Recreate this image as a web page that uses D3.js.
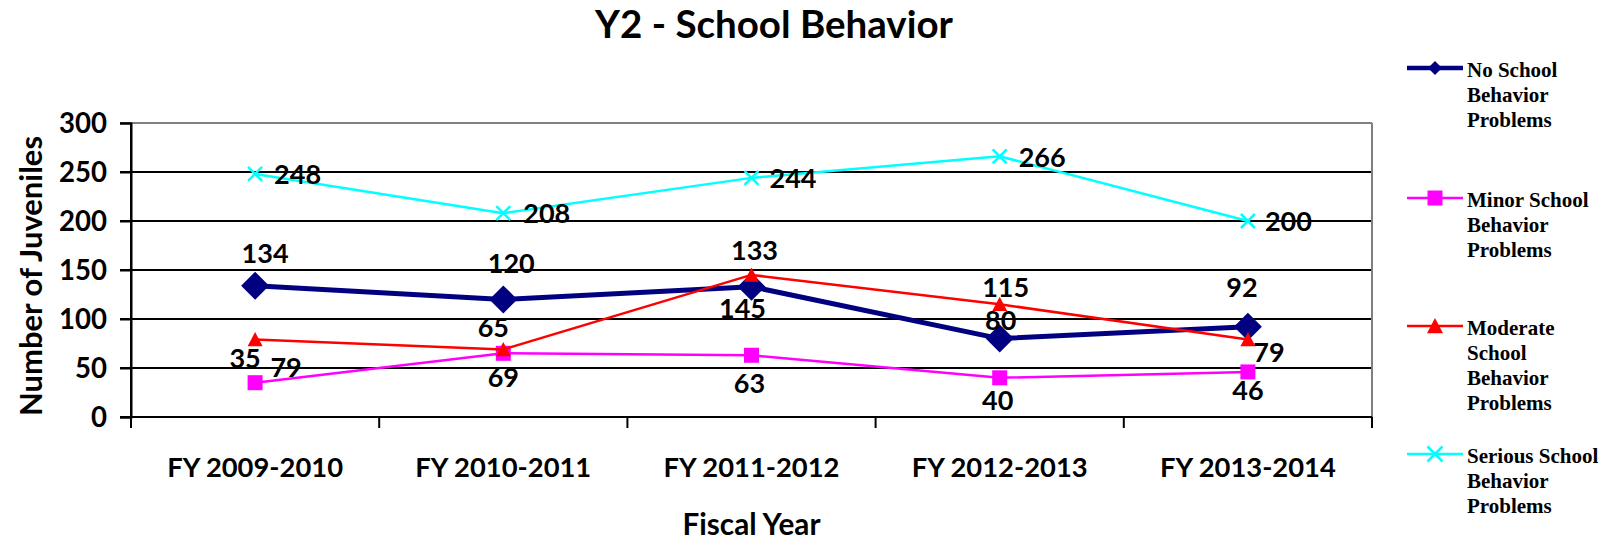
<!DOCTYPE html>
<html><head><meta charset="utf-8">
<script src="https://cdn.jsdelivr.net/npm/d3@7"></script>
<style>body{margin:0;background:#fff} svg{display:block}</style>
</head><body>
<svg id="chart" width="1615" height="543"></svg>
<script>
// ---------- data ----------
const categories = ["FY 2009-2010","FY 2010-2011","FY 2011-2012","FY 2012-2013","FY 2013-2014"];
const noProblems       = [134, 120, 133, 80, 92];
const minorProblems    = [35, 65, 63, 40, 46];
const moderateProblems = [79, 69, 145, 115, 79];
const seriousProblems  = [248, 208, 244, 266, 200];
const seriesNames = ["No School Behavior Problems","Minor School Behavior Problems","Moderate School Behavior Problems","Serious School Behavior Problems"];
const legendLines = [["No School","Behavior","Problems"],["Minor School","Behavior","Problems"],["Moderate","School","Behavior","Problems"],["Serious School","Behavior","Problems"]];
const yTicks = [0, 50, 100, 150, 200, 250, 300];
const titleText = "Y2 - School Behavior";
const xTitle = "Fiscal Year";
const yTitle = "Number of Juveniles";

// ---------- layout / style ----------
const svg = d3.select("#chart");
const L = 131, R = 1372, T = 123, B = 417;
const SANS = "Lato, 'Open Sans', sans-serif";
const SERIF = "'Liberation Serif', 'Times New Roman', serif";

function fitSize(text, family, target) {
  const t = svg.append("text").attr("font-family", family).attr("font-weight", "bold")
    .attr("font-size", 100).text(text);
  const w = t.node().getComputedTextLength();
  t.remove();
  return 100 * target / w;
}
const titleSize = fitSize(titleText, SANS, 358);
const tickSize = fitSize("FY 2009-2010", SANS, 176);
const ySize = fitSize("300", SANS, 48);
const labelSize = fitSize("248", SANS, 47);
const yTitleSize = fitSize(yTitle, SANS, 280);
const xTitleSize = fitSize(xTitle, SANS, 138);

const x = d3.scaleBand().domain(categories).range([L, R]).padding(0);
const y = d3.scaleLinear().domain([0, 300]).range([B, T]);
const cx = c => x(c) + x.bandwidth() / 2;

// gridlines
svg.append("g").selectAll("line").data(yTicks.filter(v => v > 0)).join("line")
  .attr("x1", L - 11).attr("x2", R).attr("y1", d => y(d)).attr("y2", d => y(d))
  .attr("stroke", d => d === 300 ? "#808080" : "#000").attr("stroke-width", 2);
// right border
svg.append("line").attr("x1", R).attr("x2", R).attr("y1", T).attr("y2", B)
  .attr("stroke", "#808080").attr("stroke-width", 2);

// y axis
const yAxis = svg.append("g").attr("transform", `translate(${L},0)`)
  .call(d3.axisLeft(y).tickValues(yTicks).tickSize(11).tickPadding(13));
yAxis.select(".domain").attr("stroke", "#000").attr("stroke-width", 2);
yAxis.selectAll(".tick line").attr("stroke", "#000").attr("stroke-width", 2);
yAxis.selectAll(".tick text").attr("font-family", SANS).attr("font-weight", "bold")
  .attr("font-size", ySize).attr("fill", "#000").attr("dy", "0.34em");

// x axis
const xAxis = svg.append("g").attr("transform", `translate(0,${B})`)
  .call(d3.axisBottom(x).tickSize(0).tickPadding(0));
xAxis.select(".domain").remove();
xAxis.selectAll(".tick text").attr("font-family", SANS).attr("font-weight", "bold")
  .attr("font-size", tickSize).attr("fill", "#000").attr("y", 60).attr("dy", 0);
svg.append("line").attr("x1", L - 11).attr("x2", R).attr("y1", B).attr("y2", B)
  .attr("stroke", "#000").attr("stroke-width", 2);
const bounds = categories.map(c => x(c)).concat([x(categories[categories.length - 1]) + x.bandwidth()]);
svg.append("g").selectAll("line").data(bounds).join("line")
  .attr("x1", d => d).attr("x2", d => d).attr("y1", B).attr("y2", B + 11)
  .attr("stroke", "#000").attr("stroke-width", 2);
svg.append("line").attr("x1", L).attr("x2", L).attr("y1", T).attr("y2", B + 11)
  .attr("stroke", "#000").attr("stroke-width", 2);

// titles
svg.append("text").attr("x", 774).attr("y", 38).attr("text-anchor", "middle")
  .attr("font-family", SANS).attr("font-weight", "bold").attr("font-size", titleSize).text(titleText);
svg.append("text").attr("x", (L + R) / 2).attr("y", 535).attr("text-anchor", "middle")
  .attr("font-family", SANS).attr("font-weight", "bold").attr("font-size", xTitleSize).text(xTitle);
svg.append("text").attr("transform", `translate(42,${(T + B) / 2 + 6}) rotate(-90)`).attr("text-anchor", "middle")
  .attr("font-family", SANS).attr("font-weight", "bold").attr("font-size", yTitleSize).text(yTitle);

// markers
function markerPath(type, s) {
  const h = s / 2;
  if (type === "diamond") return `M0,${-h}L${h},0L0,${h}L${-h},0Z`;
  if (type === "square") return `M${-h},${-h}H${h}V${h}H${-h}Z`;
  if (type === "triangle") return `M0,${-h}L${h},${h * 0.9}L${-h},${h * 0.9}Z`;
  return `M${-h},${-h}L${h},${h}M${h},${-h}L${-h},${h}`;
}

const series = [
  {name: seriesNames[0], values: noProblems, color: "#000080", width: 5, marker: "diamond", size: 28, legSize: 14, legWidth: 4.5,
   anchor: "middle", off: [[10,-23],[8,-26],[3,-27],[1,-9],[-6,-30]]},
  {name: seriesNames[1], values: minorProblems, color: "#FF00FF", width: 2.5, marker: "square", size: 15, legSize: 15, legWidth: 2.5,
   anchor: "middle", off: [[-10,-15],[-10,-16],[-2,38],[-2,32],[0,28]]},
  {name: seriesNames[2], values: moderateProblems, color: "#FF0000", width: 2.5, marker: "triangle", size: 15, legSize: 16, legWidth: 2.5,
   anchor: "middle", off: [[31,37],[0,38],[-9,43],[6,-7],[21,22]]},
  {name: seriesNames[3], values: seriousProblems, color: "#00FFFF", width: 2.5, marker: "x", size: 14, legSize: 15, legWidth: 2.5,
   anchor: "start", off: [[19,10],[20,10],[18,10],[19,11],[17,10]]}
];

const line = d3.line().x(d => cx(d.c)).y(d => y(d.v));
series.forEach(s => {
  const pts = categories.map((c, i) => ({c, v: s.values[i]}));
  const g = svg.append("g");
  g.append("path").datum(pts).attr("d", line).attr("fill", "none")
    .attr("stroke", s.color).attr("stroke-width", s.width).attr("stroke-linejoin", "round");
  g.selectAll("path.m").data(pts).join("path").attr("class", "m")
    .attr("transform", d => `translate(${cx(d.c)},${y(d.v)})`)
    .attr("d", markerPath(s.marker, s.size))
    .attr("fill", s.marker === "x" ? "none" : s.color)
    .attr("stroke", s.color).attr("stroke-width", s.marker === "x" ? 2.5 : 0);
  s.pts = pts;
});
series.forEach(s => {
  svg.append("g").selectAll("text").data(s.pts).join("text")
    .attr("x", (d, i) => cx(d.c) + s.off[i][0]).attr("y", (d, i) => y(d.v) + s.off[i][1])
    .attr("text-anchor", s.anchor).attr("font-family", SANS).attr("font-weight", "bold")
    .attr("font-size", labelSize).attr("fill", "#000").text(d => d.v);
});

// legend
const legY = [68, 198, 326, 454];
series.forEach((s, i) => {
  const g = svg.append("g").attr("transform", `translate(0,${legY[i]})`);
  g.append("line").attr("x1", 1407).attr("x2", 1463).attr("y1", 0).attr("y2", 0)
    .attr("stroke", s.color).attr("stroke-width", s.legWidth);
  g.append("path").attr("transform", "translate(1435,0)").attr("d", markerPath(s.marker, s.legSize))
    .attr("fill", s.marker === "x" ? "none" : s.color).attr("stroke", s.color)
    .attr("stroke-width", s.marker === "x" ? 2.5 : 0);
  g.append("text").attr("font-family", SERIF).attr("font-weight", "bold").attr("font-size", 21)
    .selectAll("tspan").data(legendLines[i]).join("tspan")
    .attr("x", 1467).attr("y", (d, j) => 9 + j * 25).text(d => d);
});
</script>
</body></html>
